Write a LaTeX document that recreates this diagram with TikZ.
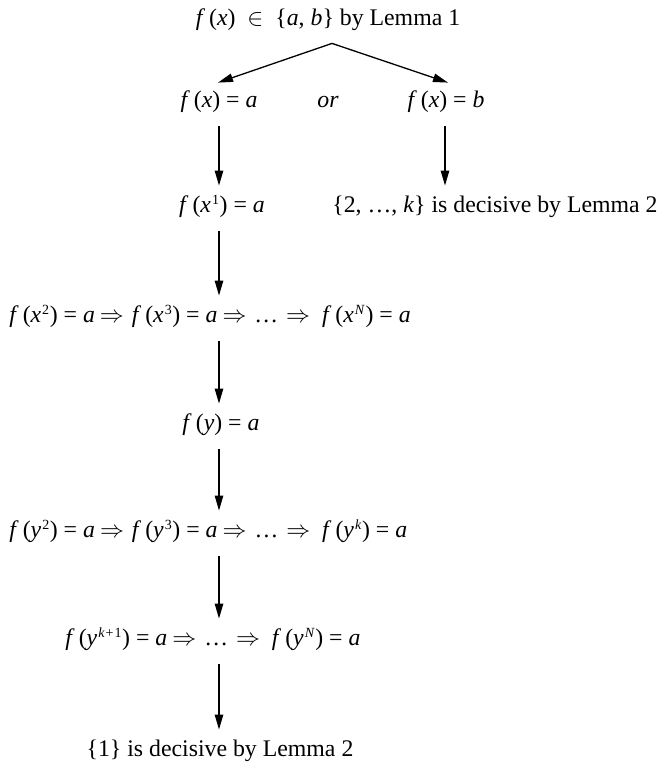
\documentclass[tikz,border=0pt]{standalone}
\usepackage{fontspec}
\setmainfont{Liberation Serif}
\usetikzlibrary{arrows.meta}
\newcommand\myf[1]{\textit{f}\kern2pt(#1)}
\newcommand\myi[1]{\textit{#1}}
\newcommand\mysup[1]{\kern0.5pt\raisebox{3.6pt}{\fontsize{7pt}{8pt}\selectfont #1}\kern0.3pt}
\newcommand\imp{\kern2.5pt$\Rightarrow$\kern1pt\ }
\begin{document}
\begin{tikzpicture}[x=0.5pt,y=-0.5pt,
  txt/.style={inner sep=0pt, text height=8pt, text depth=3pt, font=\fontsize{11.9pt}{14pt}\selectfont},
  arr/.style={draw, line width=0.65pt, -{Triangle[length=7.5pt,width=4.2pt]}},
  varr/.style={arr, shorten <=6.5pt, shorten >=5pt}]
\useasboundingbox (0,0) rectangle (661,762);
\coordinate (col) at (219,0);
\node[txt, anchor=base] (L1) at (328,25) {\myf{\myi{x}}\ \ $\in$\ \ \{\myi{a}, \myi{b}\} by Lemma 1};
\node[txt, anchor=base] (L2a) at (219,107) {\myf{\myi{x}} = \myi{a}};
\node[txt, anchor=base] (or) at (328,107) {\myi{or}};
\node[txt, anchor=base] (L2b) at (446,107) {\myf{\myi{x}} = \myi{b}};
\node[txt, anchor=base] (L3a) at (222,212) {\myf{\myi{x}\mysup{1}} = \myi{a}};
\node[txt, anchor=base east] (L3b) at (658,212) {\{2, …, \myi{k}\} is decisive by Lemma 2};
\node[txt, anchor=base west] (L4) at (9,322) {\myf{\myi{x}\mysup{2}} = \myi{a}\imp\myf{\myi{x}\mysup{3}} = \myi{a}\imp…\kern1pt\ $\Rightarrow$\ \ \myf{\myi{x}\mysup{\myi{N}}} = \myi{a}};
\node[txt, anchor=base] (L5) at (221,430) {\myf{\myi{y}} = \myi{a}};
\node[txt, anchor=base west] (L6) at (9,537) {\myf{\myi{y}\mysup{2}} = \myi{a}\imp\myf{\myi{y}\mysup{3}} = \myi{a}\imp…\kern1pt\ $\Rightarrow$\ \ \myf{\myi{y}\mysup{\myi{k}}} = \myi{a}};
\node[txt, anchor=base west] (L7) at (65,645) {\myf{\myi{y}\mysup{\myi{k}\kern0.5pt+\kern0.5pt1}} = \myi{a}\imp…\kern1pt\ $\Rightarrow$\ \ \myf{\myi{y}\mysup{\myi{N}}} = \myi{a}};
\node[txt, anchor=base] (L8) at (220,756) {\{1\} is decisive by Lemma 2};
\draw[arr] ([xshift=2pt,yshift=-6pt]L1.south) -- ([xshift=-0.5pt,yshift=4pt]L2a.north);
\draw[arr] ([xshift=2pt,yshift=-6pt]L1.south) -- ([xshift=1pt,yshift=4pt]L2b.north);
\draw[varr] (L2a.south -| col) -- (L3a.north -| col);
\draw[varr] ([xshift=-0.5pt]L2b.south) -- ([xshift=-0.5pt]L2b.south |- L3b.north);
\draw[varr] (L3a.south -| col) -- (L4.north -| col);
\draw[varr] (L4.south -| col) -- (L5.north -| col);
\draw[varr] (L5.south -| col) -- (L6.north -| col);
\draw[varr] (L6.south -| col) -- (L7.north -| col);
\draw[varr] (L7.south -| col) -- (L8.north -| col);
\end{tikzpicture}
\end{document}
